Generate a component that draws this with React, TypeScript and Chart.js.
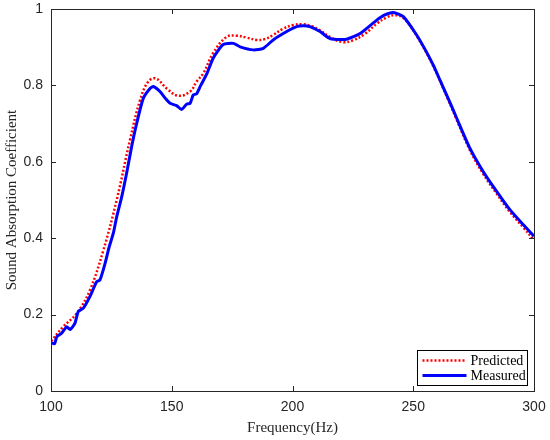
import React, { useEffect, useRef } from "react";
import { Chart, registerables } from "chart.js";

Chart.register(...registerables);

// Frequency (Hz) sample positions and values
const measuredFreq = [
  100, 101.5, 102.4, 104.5, 106.5, 107.9, 109.9, 111.3, 113.4, 116.1, 118.9, 120.3, 122.4, 124, 125.8,
  127.2, 129.3, 131.3, 133.4, 135.5, 138.2, 141, 142.4, 145.1, 147.5, 149.3, 152, 154.1, 156.2, 157.6,
  158.9, 160.3, 162, 164.5, 167.2, 171.3, 175.5, 178.3, 183.8, 187.9, 192, 197.6, 201.7, 204.5, 207.2,
  211.4, 214.8, 216.9, 222.4, 228, 234.9, 238, 241.7, 245.9, 251.4, 255, 258.3, 261, 263.8, 266, 268,
  273.5, 279, 284.6, 290.1, 295.6, 300,
];
const measuredValues = [
  0.126, 0.124, 0.142, 0.152, 0.168, 0.161, 0.177, 0.208, 0.217, 0.247, 0.286, 0.291, 0.334, 0.375, 0.413,
  0.456, 0.509, 0.57, 0.64, 0.701, 0.766, 0.792, 0.797, 0.784, 0.765, 0.753, 0.747, 0.737, 0.751, 0.753,
  0.775, 0.778, 0.8, 0.83, 0.872, 0.907, 0.91, 0.901, 0.893, 0.897, 0.919, 0.941, 0.954, 0.956, 0.954,
  0.941, 0.925, 0.921, 0.921, 0.936, 0.971, 0.984, 0.991, 0.98, 0.932, 0.893, 0.853, 0.815, 0.775, 0.744, 0.714,
  0.635, 0.574, 0.522, 0.474, 0.435, 0.405,
];

const predictedFreq = [
  100, 105, 110.6, 116.1, 121.7, 127.2, 132.7, 136.9, 140.3, 143.5, 147.9, 152.7, 157.6, 160.3, 163.1,
  167.2, 172.7, 176.9, 181, 185.2, 188.5, 192, 196, 200.3, 204.5, 208, 211.4, 216, 221, 225, 230, 235,
  239, 242.4, 246, 251.4, 258.3, 263.8, 268, 273.5, 279, 284.6, 290.1, 295.6, 300,
];
const predictedValues = [
  0.13, 0.168, 0.203, 0.264, 0.369, 0.5, 0.657, 0.762, 0.81, 0.818, 0.792, 0.773, 0.784, 0.81, 0.832,
  0.885, 0.927, 0.93, 0.925, 0.919, 0.921, 0.932, 0.948, 0.958, 0.96, 0.955, 0.944, 0.925, 0.913, 0.918, 0.935, 0.962,
  0.978, 0.984, 0.976, 0.93, 0.85, 0.772, 0.71, 0.63, 0.568, 0.516, 0.468, 0.428, 0.395,
];

const seriesLabels = ["Predicted", "Measured"];
const xTitle = "Frequency(Hz)";
const yTitle = "Sound Absorption Coefficient";

const AXIS_COLOR = "#262626";
const SERIF = "'Liberation Serif', 'Times New Roman', serif";
const SANS = "'Liberation Sans', Arial, sans-serif";

const matlabAxes = {
  id: "matlabAxes",
  afterDatasetsDraw(chart: any) {
    const { ctx, chartArea } = chart;
    const { left, right, top, bottom } = chartArea;
    const xs = chart.scales.x;
    const ys = chart.scales.y;
    ctx.save();
    ctx.strokeStyle = AXIS_COLOR;
    ctx.lineWidth = 1;
    ctx.setLineDash([]);
    ctx.beginPath();
    const tl = 5;
    xs.ticks.forEach((t: any) => {
      const px = Math.round(xs.getPixelForValue(t.value)) + 0.5;
      ctx.moveTo(px, bottom);
      ctx.lineTo(px, bottom - tl);
      ctx.moveTo(px, top);
      ctx.lineTo(px, top + tl);
    });
    ys.ticks.forEach((t: any) => {
      const py = Math.round(ys.getPixelForValue(t.value)) + 0.5;
      ctx.moveTo(left, py);
      ctx.lineTo(left + tl, py);
      ctx.moveTo(right, py);
      ctx.lineTo(right - tl, py);
    });
    ctx.stroke();
    ctx.strokeRect(Math.round(left) + 0.5, Math.round(top) + 0.5, Math.round(right - left), Math.round(bottom - top));
    ctx.restore();
  },
  afterDraw(chart: any) {
    const { ctx, chartArea } = chart;
    const { right, bottom } = chartArea;
    const w = 110;
    const h = 35;
    const bx = Math.round(right - 7 - w) + 0.5;
    const by = Math.round(bottom - 6 - h) + 0.5;
    ctx.save();
    ctx.fillStyle = "#ffffff";
    ctx.fillRect(bx, by, w, h);
    ctx.strokeStyle = "#000000";
    ctx.lineWidth = 1;
    ctx.setLineDash([]);
    ctx.strokeRect(bx, by, w, h);
    chart.data.datasets.forEach((ds: any, i: number) => {
      const cy = by + 10 + i * 15;
      ctx.beginPath();
      ctx.strokeStyle = ds.borderColor;
      ctx.lineWidth = ds.borderWidth;
      ctx.setLineDash(ds.borderDash || []);
      ctx.moveTo(bx + 5, cy);
      ctx.lineTo(bx + 49, cy);
      ctx.stroke();
      ctx.setLineDash([]);
      ctx.fillStyle = "#000000";
      ctx.font = `14px ${SERIF}`;
      ctx.textBaseline = "middle";
      ctx.textAlign = "left";
      ctx.fillText(ds.label, bx + 53, cy + 1);
    });
    ctx.restore();
  },
};

export default function App() {
  const canvasRef = useRef<HTMLCanvasElement | null>(null);

  useEffect(() => {
    const canvas = canvasRef.current;
    if (!canvas) return;
    const chart = new Chart(canvas, {
      type: "line",
      data: {
        datasets: [
          {
            label: seriesLabels[0],
            data: predictedFreq.map((f, i) => ({ x: f, y: predictedValues[i] })),
            borderColor: "#ff0000",
            borderWidth: 2.5,
            borderDash: [2, 2],
            pointRadius: 0,
            tension: 0.4,
            fill: false,
            order: 1,
          },
          {
            label: seriesLabels[1],
            data: measuredFreq.map((f, i) => ({ x: f, y: measuredValues[i] })),
            borderColor: "#0000ff",
            borderWidth: 3,
            pointRadius: 0,
            tension: 0.2,
            fill: false,
            order: 0,
          },
        ],
      },
      options: {
        responsive: false,
        animation: false,
        devicePixelRatio: 1,
        layout: { padding: { top: 9, right: 16, left: 0, bottom: 0 } },
        plugins: {
          legend: { display: false },
          tooltip: { enabled: false },
        },
        scales: {
          x: {
            type: "linear",
            min: 100,
            max: 300,
            ticks: {
              stepSize: 50,
              color: AXIS_COLOR,
              font: { family: SANS, size: 14 },
              padding: 8,
              maxRotation: 0,
            },
            grid: { display: false, drawTicks: false },
            border: { display: false },
            title: {
              display: true,
              text: xTitle,
              color: AXIS_COLOR,
              font: { family: SERIF, size: 15 },
              padding: { top: 0, bottom: 3 },
            },
            afterFit(scale: any) {
              scale.height = 49;
              scale.paddingLeft = 0;
              scale.paddingRight = 0;
            },
          },
          y: {
            type: "linear",
            min: 0,
            max: 1,
            ticks: {
              stepSize: 0.2,
              color: AXIS_COLOR,
              font: { family: SANS, size: 14 },
              padding: 8,
              callback: (v: any) => String(Math.round(Number(v) * 10) / 10),
            },
            grid: { display: false, drawTicks: false },
            border: { display: false },
            title: {
              display: true,
              text: yTitle,
              color: AXIS_COLOR,
              font: { family: SERIF, size: 15 },
              padding: { top: 3, bottom: 0 },
            },
            afterFit(scale: any) {
              scale.width = 51;
              scale.paddingTop = 0;
              scale.paddingBottom = 0;
            },
          },
        },
      },
      plugins: [matlabAxes],
    });
    return () => chart.destroy();
  }, []);

  return (
    <div style={{ position: "fixed", left: 0, top: 0, width: 550, height: 440, background: "#fff" }}>
      <canvas ref={canvasRef} width={550} height={440} style={{ width: 550, height: 440, display: "block" }} />
    </div>
  );
}
